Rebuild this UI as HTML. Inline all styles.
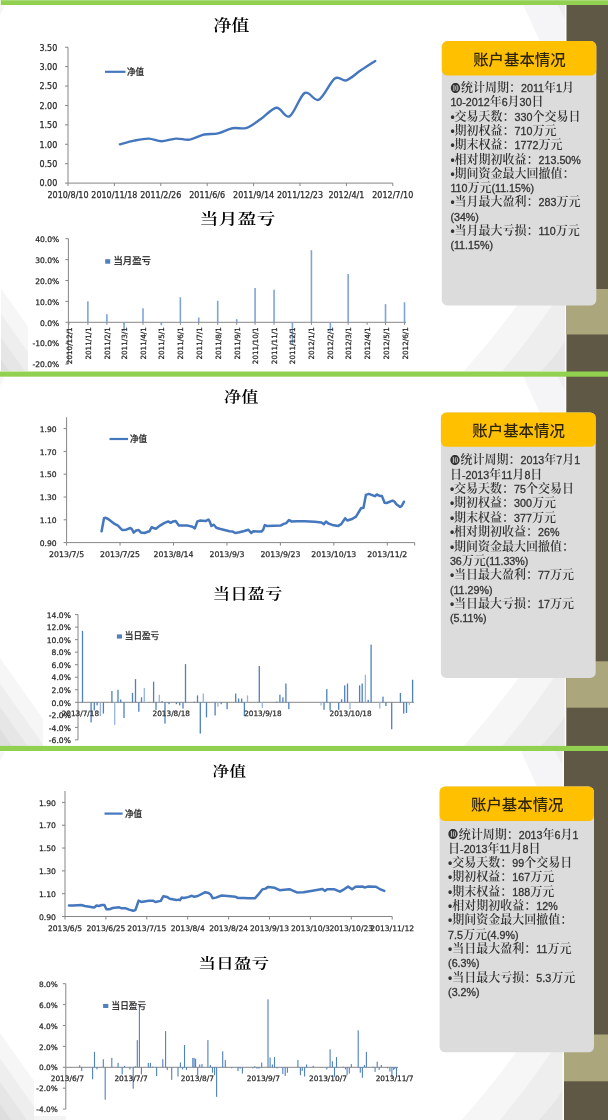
<!DOCTYPE html>
<html lang="zh-CN"><head><meta charset="utf-8"><title>账户基本情况</title>
<style>html,body{margin:0;padding:0;background:#fff}body{width:608px;height:1120px;position:relative;overflow:hidden}text{white-space:pre}</style></head><body>
<svg width="608" height="1120" viewBox="0 0 608 1120" style="position:absolute;left:0;top:0">
<rect x="0" y="0" width="608" height="1120" fill="#FFFFFF"/>
<path d="M523.5,5 L541.0,44 L566.5,44 L566.5,5 Z" fill="#F5F5F7"/>
<path d="M557.5,5 L566.5,5 L566.5,22 Z" fill="#EDEDED"/>
<path d="M521.7,299 Q495.85,335 464,371 L566.5,371 L566.5,299 Z" fill="#F6F6F6"/>
<path d="M556.4,299 Q532.45,335 502.5,371 L566.5,371 L566.5,299 Z" fill="#EEEEEE"/>
<path d="M566.5,339 Q556.8,355 541.1,371 L566.5,371 L566.5,339 Z" fill="#E6E6E6"/>
<rect x="564.9" y="5" width="1.6" height="366" fill="#FCFCFC"/>
<clipPath id="cl0"><rect x="0" y="5" width="28" height="366"/></clipPath><g clip-path="url(#cl0)">
<path d="M0,287 L28,326.76 L28,451 L0,451 Z" fill="#F6F6F6"/>
<path d="M0,312.5 L28,352.26 L28,451 L0,451 Z" fill="#EEEEEE"/>
<path d="M0,336 L28,375.76 L28,451 L0,451 Z" fill="#E6E6E6"/>
<path d="M0,358 L28,397.76 L28,451 L0,451 Z" fill="#DEDEDE"/>
</g>
<rect x="0" y="287" width="1" height="84" fill="#FFFFFF"/>
<path d="M0,5.5 L5,5.5 L0,15 Z" fill="#F6F6F6"/>
<rect x="566.5" y="5" width="41.5" height="367" fill="#5F5844" />
<rect x="566.5" y="289" width="41.5" height="45.5" fill="#ACA67D" />
<rect x="0.8" y="0" width="608" height="5" fill="#92D050" />
<rect x="0.8" y="0" width="608" height="1" fill="#A9DA7A" />
<path d="M523.3,376 L540.8,415 L566.3,415 L566.3,376 Z" fill="#F5F5F7"/>
<path d="M557.3,376 L566.3,376 L566.3,393 Z" fill="#EDEDED"/>
<path d="M521.5,674 Q495.65,710 463.8,746 L566.3,746 L566.3,674 Z" fill="#F6F6F6"/>
<path d="M556.2,674 Q532.25,710 502.3,746 L566.3,746 L566.3,674 Z" fill="#EEEEEE"/>
<path d="M566.3,714 Q556.6,730 540.9,746 L566.3,746 L566.3,714 Z" fill="#E6E6E6"/>
<rect x="564.6999999999999" y="376" width="1.6" height="370" fill="#FCFCFC"/>
<clipPath id="cl371"><rect x="0" y="376" width="43" height="370"/></clipPath><g clip-path="url(#cl371)">
<path d="M0,658 L43,719.06 L43,826 L0,826 Z" fill="#F6F6F6"/>
<path d="M0,683.5 L43,744.56 L43,826 L0,826 Z" fill="#EEEEEE"/>
<path d="M0,707 L43,768.06 L43,826 L0,826 Z" fill="#E6E6E6"/>
<path d="M0,729 L43,790.06 L43,826 L0,826 Z" fill="#DEDEDE"/>
</g>
<path d="M0,376.5 L5,376.5 L0,386 Z" fill="#F6F6F6"/>
<rect x="566.3" y="376" width="41.7" height="371" fill="#5F5844" />
<rect x="566.3" y="661.3" width="41.7" height="46.4" fill="#ACA67D" />
<rect x="0" y="371.5" width="608" height="5.2" fill="#92D050" />
<path d="M521,751 L538.5,790 L564,790 L564,751 Z" fill="#F5F5F7"/>
<path d="M555,751 L564,751 L564,768 Z" fill="#EDEDED"/>
<path d="M519.2,1048 Q493.35,1084 461.5,1120 L564,1120 L564,1048 Z" fill="#F6F6F6"/>
<path d="M553.9,1048 Q529.95,1084 500,1120 L564,1120 L564,1048 Z" fill="#EEEEEE"/>
<path d="M564,1088 Q554.3,1104 538.6,1120 L564,1120 L564,1088 Z" fill="#E6E6E6"/>
<rect x="562.4" y="751" width="1.6" height="369" fill="#FCFCFC"/>
<clipPath id="cl746"><rect x="0" y="751" width="34" height="369"/></clipPath><g clip-path="url(#cl746)">
<path d="M0,1033 L34,1081.28 L34,1200 L0,1200 Z" fill="#F6F6F6"/>
<path d="M0,1058.5 L34,1106.78 L34,1200 L0,1200 Z" fill="#EEEEEE"/>
<path d="M0,1082 L34,1130.28 L34,1200 L0,1200 Z" fill="#E6E6E6"/>
<path d="M0,1104 L34,1152.28 L34,1200 L0,1200 Z" fill="#DEDEDE"/>
</g>
<path d="M0,751.5 L5,751.5 L0,761 Z" fill="#F6F6F6"/>
<rect x="564" y="751" width="44" height="370" fill="#5F5844" />
<rect x="564" y="1034.5" width="44" height="46.8" fill="#ACA67D" />
<rect x="0" y="745.9" width="608" height="5.1" fill="#92D050" />
<rect x="34" y="1116" width="32" height="4" fill="#F4F4F4" />
<text x="231.35" y="30.72" font-size="15.91" text-anchor="middle" fill="#000" font-family="'Liberation Serif', 'Noto Serif CJK SC', serif" font-weight="600" textLength="36.25" lengthAdjust="spacingAndGlyphs">净值</text>
<line x1="68" y1="47.23" x2="68" y2="183.1" stroke="#868686" stroke-width="1"/>
<line x1="65" y1="183.1" x2="68" y2="183.1" stroke="#868686" stroke-width="1"/>
<text x="57.3" y="186.48" font-size="8.0" text-anchor="end" fill="#2A2A2A" font-family="'DejaVu Sans', 'Liberation Sans', sans-serif" font-weight="normal" stroke="#2A2A2A" stroke-width="0.25" >0.00</text>
<line x1="65" y1="163.69" x2="68" y2="163.69" stroke="#868686" stroke-width="1"/>
<text x="57.3" y="167.07" font-size="8.0" text-anchor="end" fill="#2A2A2A" font-family="'DejaVu Sans', 'Liberation Sans', sans-serif" font-weight="normal" stroke="#2A2A2A" stroke-width="0.25" >0.50</text>
<line x1="65" y1="144.28" x2="68" y2="144.28" stroke="#868686" stroke-width="1"/>
<text x="57.3" y="147.66" font-size="8.0" text-anchor="end" fill="#2A2A2A" font-family="'DejaVu Sans', 'Liberation Sans', sans-serif" font-weight="normal" stroke="#2A2A2A" stroke-width="0.25" >1.00</text>
<line x1="65" y1="124.87" x2="68" y2="124.87" stroke="#868686" stroke-width="1"/>
<text x="57.3" y="128.25" font-size="8.0" text-anchor="end" fill="#2A2A2A" font-family="'DejaVu Sans', 'Liberation Sans', sans-serif" font-weight="normal" stroke="#2A2A2A" stroke-width="0.25" >1.50</text>
<line x1="65" y1="105.46" x2="68" y2="105.46" stroke="#868686" stroke-width="1"/>
<text x="57.3" y="108.84" font-size="8.0" text-anchor="end" fill="#2A2A2A" font-family="'DejaVu Sans', 'Liberation Sans', sans-serif" font-weight="normal" stroke="#2A2A2A" stroke-width="0.25" >2.00</text>
<line x1="65" y1="86.05" x2="68" y2="86.05" stroke="#868686" stroke-width="1"/>
<text x="57.3" y="89.43" font-size="8.0" text-anchor="end" fill="#2A2A2A" font-family="'DejaVu Sans', 'Liberation Sans', sans-serif" font-weight="normal" stroke="#2A2A2A" stroke-width="0.25" >2.50</text>
<line x1="65" y1="66.64" x2="68" y2="66.64" stroke="#868686" stroke-width="1"/>
<text x="57.3" y="70.02" font-size="8.0" text-anchor="end" fill="#2A2A2A" font-family="'DejaVu Sans', 'Liberation Sans', sans-serif" font-weight="normal" stroke="#2A2A2A" stroke-width="0.25" >3.00</text>
<line x1="65" y1="47.23" x2="68" y2="47.23" stroke="#868686" stroke-width="1"/>
<text x="57.3" y="50.61" font-size="8.0" text-anchor="end" fill="#2A2A2A" font-family="'DejaVu Sans', 'Liberation Sans', sans-serif" font-weight="normal" stroke="#2A2A2A" stroke-width="0.25" >3.50</text>
<line x1="68" y1="183.1" x2="392.8" y2="183.1" stroke="#868686" stroke-width="1"/>
<line x1="68" y1="183.1" x2="68" y2="186.1" stroke="#868686" stroke-width="1"/>
<text x="68" y="198" font-size="8.0" text-anchor="middle" fill="#2A2A2A" font-family="'DejaVu Sans', 'Liberation Sans', sans-serif" font-weight="normal" stroke="#2A2A2A" stroke-width="0.25" >2010/8/10</text>
<line x1="114.4" y1="183.1" x2="114.4" y2="186.1" stroke="#868686" stroke-width="1"/>
<text x="114.4" y="198" font-size="8.0" text-anchor="middle" fill="#2A2A2A" font-family="'DejaVu Sans', 'Liberation Sans', sans-serif" font-weight="normal" stroke="#2A2A2A" stroke-width="0.25" >2010/11/18</text>
<line x1="160.8" y1="183.1" x2="160.8" y2="186.1" stroke="#868686" stroke-width="1"/>
<text x="160.8" y="198" font-size="8.0" text-anchor="middle" fill="#2A2A2A" font-family="'DejaVu Sans', 'Liberation Sans', sans-serif" font-weight="normal" stroke="#2A2A2A" stroke-width="0.25" >2011/2/26</text>
<line x1="207.2" y1="183.1" x2="207.2" y2="186.1" stroke="#868686" stroke-width="1"/>
<text x="207.2" y="198" font-size="8.0" text-anchor="middle" fill="#2A2A2A" font-family="'DejaVu Sans', 'Liberation Sans', sans-serif" font-weight="normal" stroke="#2A2A2A" stroke-width="0.25" >2011/6/6</text>
<line x1="253.6" y1="183.1" x2="253.6" y2="186.1" stroke="#868686" stroke-width="1"/>
<text x="253.6" y="198" font-size="8.0" text-anchor="middle" fill="#2A2A2A" font-family="'DejaVu Sans', 'Liberation Sans', sans-serif" font-weight="normal" stroke="#2A2A2A" stroke-width="0.25" >2011/9/14</text>
<line x1="300" y1="183.1" x2="300" y2="186.1" stroke="#868686" stroke-width="1"/>
<text x="300" y="198" font-size="8.0" text-anchor="middle" fill="#2A2A2A" font-family="'DejaVu Sans', 'Liberation Sans', sans-serif" font-weight="normal" stroke="#2A2A2A" stroke-width="0.25" >2011/12/23</text>
<line x1="346.4" y1="183.1" x2="346.4" y2="186.1" stroke="#868686" stroke-width="1"/>
<text x="346.4" y="198" font-size="8.0" text-anchor="middle" fill="#2A2A2A" font-family="'DejaVu Sans', 'Liberation Sans', sans-serif" font-weight="normal" stroke="#2A2A2A" stroke-width="0.25" >2012/4/1</text>
<line x1="392.8" y1="183.1" x2="392.8" y2="186.1" stroke="#868686" stroke-width="1"/>
<text x="392.8" y="198" font-size="8.0" text-anchor="middle" fill="#2A2A2A" font-family="'DejaVu Sans', 'Liberation Sans', sans-serif" font-weight="normal" stroke="#2A2A2A" stroke-width="0.25" >2012/7/10</text>
<path d="M119.9,144.3 C122.28,143.68 129.42,141.55 134.2,140.6 C138.98,139.65 144.05,138.48 148.6,138.6 C153.15,138.72 156.95,141.3 161.5,141.3 C166.05,141.3 171.18,138.88 175.9,138.6 C180.62,138.32 185.1,140.28 189.8,139.6 C194.5,138.92 199.4,135.53 204.1,134.5 C208.8,133.47 213.28,134.43 218,133.4 C222.72,132.37 227.62,129.23 232.4,128.3 C237.18,127.37 241.97,129.33 246.7,127.8 C251.43,126.27 255.83,122.45 260.8,119.1 C265.77,115.75 271.72,108.15 276.5,107.7 C281.28,107.25 284.78,118.87 289.5,116.4 C294.22,113.93 299.92,95.68 304.8,92.9 C309.68,90.12 313.8,102.1 318.8,99.7 C323.8,97.3 330.22,81.72 334.8,78.5 C339.38,75.28 342.02,81.72 346.3,80.4 C350.58,79.08 355.68,73.83 360.5,70.6 C365.32,67.37 372.75,62.6 375.2,61" fill="none" stroke="#4477BD" stroke-width="2.4" stroke-linecap="round"/>
<line x1="105" y1="71.8" x2="125.5" y2="71.8" stroke="#4477BD" stroke-width="2.2"/>
<text x="127" y="74.6" font-size="8.6" text-anchor="start" fill="#222" font-family="'Liberation Sans', 'Noto Sans CJK SC', sans-serif" font-weight="normal" stroke="#222" stroke-width="0.25" >净值</text>
<text x="237.45" y="224.48" font-size="14.95" text-anchor="middle" fill="#000" font-family="'Liberation Serif', 'Noto Serif CJK SC', serif" font-weight="600" textLength="76.01" lengthAdjust="spacingAndGlyphs">当月盈亏</text>
<line x1="68.4" y1="238.7" x2="68.4" y2="364.1" stroke="#868686" stroke-width="1"/>
<line x1="65.4" y1="364.1" x2="68.4" y2="364.1" stroke="#868686" stroke-width="1"/>
<text x="59.3" y="367.34" font-size="7.6" text-anchor="end" fill="#2A2A2A" font-family="'DejaVu Sans', 'Liberation Sans', sans-serif" font-weight="normal" stroke="#2A2A2A" stroke-width="0.25" >-20.0%</text>
<line x1="65.4" y1="343.2" x2="68.4" y2="343.2" stroke="#868686" stroke-width="1"/>
<text x="59.3" y="346.44" font-size="7.6" text-anchor="end" fill="#2A2A2A" font-family="'DejaVu Sans', 'Liberation Sans', sans-serif" font-weight="normal" stroke="#2A2A2A" stroke-width="0.25" >-10.0%</text>
<line x1="65.4" y1="322.3" x2="68.4" y2="322.3" stroke="#868686" stroke-width="1"/>
<text x="59.3" y="325.54" font-size="7.6" text-anchor="end" fill="#2A2A2A" font-family="'DejaVu Sans', 'Liberation Sans', sans-serif" font-weight="normal" stroke="#2A2A2A" stroke-width="0.25" >0.0%</text>
<line x1="65.4" y1="301.4" x2="68.4" y2="301.4" stroke="#868686" stroke-width="1"/>
<text x="59.3" y="304.64" font-size="7.6" text-anchor="end" fill="#2A2A2A" font-family="'DejaVu Sans', 'Liberation Sans', sans-serif" font-weight="normal" stroke="#2A2A2A" stroke-width="0.25" >10.0%</text>
<line x1="65.4" y1="280.5" x2="68.4" y2="280.5" stroke="#868686" stroke-width="1"/>
<text x="59.3" y="283.74" font-size="7.6" text-anchor="end" fill="#2A2A2A" font-family="'DejaVu Sans', 'Liberation Sans', sans-serif" font-weight="normal" stroke="#2A2A2A" stroke-width="0.25" >20.0%</text>
<line x1="65.4" y1="259.6" x2="68.4" y2="259.6" stroke="#868686" stroke-width="1"/>
<text x="59.3" y="262.84" font-size="7.6" text-anchor="end" fill="#2A2A2A" font-family="'DejaVu Sans', 'Liberation Sans', sans-serif" font-weight="normal" stroke="#2A2A2A" stroke-width="0.25" >30.0%</text>
<line x1="65.4" y1="238.7" x2="68.4" y2="238.7" stroke="#868686" stroke-width="1"/>
<text x="59.3" y="241.94" font-size="7.6" text-anchor="end" fill="#2A2A2A" font-family="'DejaVu Sans', 'Liberation Sans', sans-serif" font-weight="normal" stroke="#2A2A2A" stroke-width="0.25" >40.0%</text>
<line x1="68.4" y1="322.3" x2="406" y2="322.3" stroke="#868686" stroke-width="1"/>
<line x1="68.9" y1="322.3" x2="68.9" y2="324.8" stroke="#868686" stroke-width="1"/>
<text transform="translate(71.9,327.3) rotate(-90)" font-size="7.2" text-anchor="end" fill="#2A2A2A" stroke="#2A2A2A" stroke-width="0.25" font-family="'DejaVu Sans', 'Liberation Sans', sans-serif">2010/12/1</text>
<line x1="87.88" y1="322.3" x2="87.88" y2="324.8" stroke="#868686" stroke-width="1"/>
<rect x="87.08" y="301.4" width="1.6" height="20.9" fill="#7FA5D7" />
<text transform="translate(90.88,327.3) rotate(-90)" font-size="7.2" text-anchor="end" fill="#2A2A2A" stroke="#2A2A2A" stroke-width="0.25" font-family="'DejaVu Sans', 'Liberation Sans', sans-serif">2011/1/1</text>
<line x1="106.87" y1="322.3" x2="106.87" y2="324.8" stroke="#868686" stroke-width="1"/>
<rect x="106.07" y="314.15" width="1.6" height="8.15" fill="#7FA5D7" />
<text transform="translate(109.87,327.3) rotate(-90)" font-size="7.2" text-anchor="end" fill="#2A2A2A" stroke="#2A2A2A" stroke-width="0.25" font-family="'DejaVu Sans', 'Liberation Sans', sans-serif">2011/2/1</text>
<line x1="124.02" y1="322.3" x2="124.02" y2="324.8" stroke="#868686" stroke-width="1"/>
<rect x="123.22" y="322.3" width="1.6" height="8.99" fill="#7FA5D7" />
<text transform="translate(127.02,327.3) rotate(-90)" font-size="7.2" text-anchor="end" fill="#2A2A2A" stroke="#2A2A2A" stroke-width="0.25" font-family="'DejaVu Sans', 'Liberation Sans', sans-serif">2011/3/1</text>
<line x1="143" y1="322.3" x2="143" y2="324.8" stroke="#868686" stroke-width="1"/>
<rect x="142.2" y="308.3" width="1.6" height="14" fill="#7FA5D7" />
<text transform="translate(146,327.3) rotate(-90)" font-size="7.2" text-anchor="end" fill="#2A2A2A" stroke="#2A2A2A" stroke-width="0.25" font-family="'DejaVu Sans', 'Liberation Sans', sans-serif">2011/4/1</text>
<line x1="161.37" y1="322.3" x2="161.37" y2="324.8" stroke="#868686" stroke-width="1"/>
<rect x="160.57" y="322.3" width="1.6" height="2.93" fill="#7FA5D7" />
<text transform="translate(164.37,327.3) rotate(-90)" font-size="7.2" text-anchor="end" fill="#2A2A2A" stroke="#2A2A2A" stroke-width="0.25" font-family="'DejaVu Sans', 'Liberation Sans', sans-serif">2011/5/1</text>
<line x1="180.36" y1="322.3" x2="180.36" y2="324.8" stroke="#868686" stroke-width="1"/>
<rect x="179.56" y="297.22" width="1.6" height="25.08" fill="#7FA5D7" />
<text transform="translate(183.36,327.3) rotate(-90)" font-size="7.2" text-anchor="end" fill="#2A2A2A" stroke="#2A2A2A" stroke-width="0.25" font-family="'DejaVu Sans', 'Liberation Sans', sans-serif">2011/6/1</text>
<line x1="198.73" y1="322.3" x2="198.73" y2="324.8" stroke="#868686" stroke-width="1"/>
<rect x="197.93" y="317.49" width="1.6" height="4.81" fill="#7FA5D7" />
<text transform="translate(201.73,327.3) rotate(-90)" font-size="7.2" text-anchor="end" fill="#2A2A2A" stroke="#2A2A2A" stroke-width="0.25" font-family="'DejaVu Sans', 'Liberation Sans', sans-serif">2011/7/1</text>
<line x1="217.71" y1="322.3" x2="217.71" y2="324.8" stroke="#868686" stroke-width="1"/>
<rect x="216.91" y="300.77" width="1.6" height="21.53" fill="#7FA5D7" />
<text transform="translate(220.71,327.3) rotate(-90)" font-size="7.2" text-anchor="end" fill="#2A2A2A" stroke="#2A2A2A" stroke-width="0.25" font-family="'DejaVu Sans', 'Liberation Sans', sans-serif">2011/8/1</text>
<line x1="236.7" y1="322.3" x2="236.7" y2="324.8" stroke="#868686" stroke-width="1"/>
<rect x="235.9" y="319.17" width="1.6" height="3.13" fill="#7FA5D7" />
<text transform="translate(239.7,327.3) rotate(-90)" font-size="7.2" text-anchor="end" fill="#2A2A2A" stroke="#2A2A2A" stroke-width="0.25" font-family="'DejaVu Sans', 'Liberation Sans', sans-serif">2011/9/1</text>
<line x1="255.07" y1="322.3" x2="255.07" y2="324.8" stroke="#868686" stroke-width="1"/>
<rect x="254.27" y="288.02" width="1.6" height="34.28" fill="#7FA5D7" />
<text transform="translate(258.07,327.3) rotate(-90)" font-size="7.2" text-anchor="end" fill="#2A2A2A" stroke="#2A2A2A" stroke-width="0.25" font-family="'DejaVu Sans', 'Liberation Sans', sans-serif">2011/10/1</text>
<line x1="274.05" y1="322.3" x2="274.05" y2="324.8" stroke="#868686" stroke-width="1"/>
<rect x="273.25" y="289.7" width="1.6" height="32.6" fill="#7FA5D7" />
<text transform="translate(277.05,327.3) rotate(-90)" font-size="7.2" text-anchor="end" fill="#2A2A2A" stroke="#2A2A2A" stroke-width="0.25" font-family="'DejaVu Sans', 'Liberation Sans', sans-serif">2011/11/1</text>
<line x1="292.43" y1="322.3" x2="292.43" y2="324.8" stroke="#868686" stroke-width="1"/>
<rect x="291.63" y="322.3" width="1.6" height="22.36" fill="#7FA5D7" />
<text transform="translate(295.43,327.3) rotate(-90)" font-size="7.2" text-anchor="end" fill="#2A2A2A" stroke="#2A2A2A" stroke-width="0.25" font-family="'DejaVu Sans', 'Liberation Sans', sans-serif">2011/12/1</text>
<line x1="311.41" y1="322.3" x2="311.41" y2="324.8" stroke="#868686" stroke-width="1"/>
<rect x="310.61" y="250.2" width="1.6" height="72.1" fill="#7FA5D7" />
<text transform="translate(314.41,327.3) rotate(-90)" font-size="7.2" text-anchor="end" fill="#2A2A2A" stroke="#2A2A2A" stroke-width="0.25" font-family="'DejaVu Sans', 'Liberation Sans', sans-serif">2012/1/1</text>
<line x1="330.39" y1="322.3" x2="330.39" y2="324.8" stroke="#868686" stroke-width="1"/>
<rect x="329.59" y="322.3" width="1.6" height="9.4" fill="#7FA5D7" />
<text transform="translate(333.39,327.3) rotate(-90)" font-size="7.2" text-anchor="end" fill="#2A2A2A" stroke="#2A2A2A" stroke-width="0.25" font-family="'DejaVu Sans', 'Liberation Sans', sans-serif">2012/2/1</text>
<line x1="348.15" y1="322.3" x2="348.15" y2="324.8" stroke="#868686" stroke-width="1"/>
<rect x="347.35" y="274.02" width="1.6" height="48.28" fill="#7FA5D7" />
<text transform="translate(351.15,327.3) rotate(-90)" font-size="7.2" text-anchor="end" fill="#2A2A2A" stroke="#2A2A2A" stroke-width="0.25" font-family="'DejaVu Sans', 'Liberation Sans', sans-serif">2012/3/1</text>
<line x1="367.14" y1="322.3" x2="367.14" y2="324.8" stroke="#868686" stroke-width="1"/>
<text transform="translate(370.14,327.3) rotate(-90)" font-size="7.2" text-anchor="end" fill="#2A2A2A" stroke="#2A2A2A" stroke-width="0.25" font-family="'DejaVu Sans', 'Liberation Sans', sans-serif">2012/4/1</text>
<line x1="385.51" y1="322.3" x2="385.51" y2="324.8" stroke="#868686" stroke-width="1"/>
<rect x="384.71" y="304.12" width="1.6" height="18.18" fill="#7FA5D7" />
<text transform="translate(388.51,327.3) rotate(-90)" font-size="7.2" text-anchor="end" fill="#2A2A2A" stroke="#2A2A2A" stroke-width="0.25" font-family="'DejaVu Sans', 'Liberation Sans', sans-serif">2012/5/1</text>
<line x1="404.5" y1="322.3" x2="404.5" y2="324.8" stroke="#868686" stroke-width="1"/>
<rect x="403.7" y="302.24" width="1.6" height="20.06" fill="#7FA5D7" />
<text transform="translate(407.5,327.3) rotate(-90)" font-size="7.2" text-anchor="end" fill="#2A2A2A" stroke="#2A2A2A" stroke-width="0.25" font-family="'DejaVu Sans', 'Liberation Sans', sans-serif">2012/6/1</text>
<rect x="105.2" y="259.2" width="5" height="4.5" fill="#4F81BD" />
<text x="113.4" y="263.6" font-size="9.4" text-anchor="start" fill="#222" font-family="'Liberation Sans', 'Noto Sans CJK SC', sans-serif" font-weight="normal" stroke="#222" stroke-width="0.25" >当月盈亏</text>
<text x="241.2" y="401.51" font-size="14.41" text-anchor="middle" fill="#000" font-family="'Liberation Serif', 'Noto Serif CJK SC', serif" font-weight="600" textLength="34.35" lengthAdjust="spacingAndGlyphs">净值</text>
<line x1="66.6" y1="417.2" x2="66.6" y2="542.6" stroke="#868686" stroke-width="1"/>
<line x1="63.6" y1="542.6" x2="66.6" y2="542.6" stroke="#868686" stroke-width="1"/>
<text x="56.7" y="545.84" font-size="7.6" text-anchor="end" fill="#2A2A2A" font-family="'DejaVu Sans', 'Liberation Sans', sans-serif" font-weight="normal" stroke="#2A2A2A" stroke-width="0.25" >0.90</text>
<line x1="63.6" y1="519.8" x2="66.6" y2="519.8" stroke="#868686" stroke-width="1"/>
<text x="56.7" y="523.04" font-size="7.6" text-anchor="end" fill="#2A2A2A" font-family="'DejaVu Sans', 'Liberation Sans', sans-serif" font-weight="normal" stroke="#2A2A2A" stroke-width="0.25" >1.10</text>
<line x1="63.6" y1="497" x2="66.6" y2="497" stroke="#868686" stroke-width="1"/>
<text x="56.7" y="500.24" font-size="7.6" text-anchor="end" fill="#2A2A2A" font-family="'DejaVu Sans', 'Liberation Sans', sans-serif" font-weight="normal" stroke="#2A2A2A" stroke-width="0.25" >1.30</text>
<line x1="63.6" y1="474.2" x2="66.6" y2="474.2" stroke="#868686" stroke-width="1"/>
<text x="56.7" y="477.44" font-size="7.6" text-anchor="end" fill="#2A2A2A" font-family="'DejaVu Sans', 'Liberation Sans', sans-serif" font-weight="normal" stroke="#2A2A2A" stroke-width="0.25" >1.50</text>
<line x1="63.6" y1="451.4" x2="66.6" y2="451.4" stroke="#868686" stroke-width="1"/>
<text x="56.7" y="454.64" font-size="7.6" text-anchor="end" fill="#2A2A2A" font-family="'DejaVu Sans', 'Liberation Sans', sans-serif" font-weight="normal" stroke="#2A2A2A" stroke-width="0.25" >1.70</text>
<line x1="63.6" y1="428.6" x2="66.6" y2="428.6" stroke="#868686" stroke-width="1"/>
<text x="56.7" y="431.84" font-size="7.6" text-anchor="end" fill="#2A2A2A" font-family="'DejaVu Sans', 'Liberation Sans', sans-serif" font-weight="normal" stroke="#2A2A2A" stroke-width="0.25" >1.90</text>
<line x1="66.6" y1="542.6" x2="414.7" y2="542.6" stroke="#868686" stroke-width="1"/>
<line x1="66.6" y1="542.6" x2="66.6" y2="545.6" stroke="#868686" stroke-width="1"/>
<text x="66.6" y="557.1" font-size="7.8" text-anchor="middle" fill="#2A2A2A" font-family="'DejaVu Sans', 'Liberation Sans', sans-serif" font-weight="normal" stroke="#2A2A2A" stroke-width="0.25" >2013/7/5</text>
<line x1="120.05" y1="542.6" x2="120.05" y2="545.6" stroke="#868686" stroke-width="1"/>
<text x="120.05" y="557.1" font-size="7.8" text-anchor="middle" fill="#2A2A2A" font-family="'DejaVu Sans', 'Liberation Sans', sans-serif" font-weight="normal" stroke="#2A2A2A" stroke-width="0.25" >2013/7/25</text>
<line x1="173.5" y1="542.6" x2="173.5" y2="545.6" stroke="#868686" stroke-width="1"/>
<text x="173.5" y="557.1" font-size="7.8" text-anchor="middle" fill="#2A2A2A" font-family="'DejaVu Sans', 'Liberation Sans', sans-serif" font-weight="normal" stroke="#2A2A2A" stroke-width="0.25" >2013/8/14</text>
<line x1="226.95" y1="542.6" x2="226.95" y2="545.6" stroke="#868686" stroke-width="1"/>
<text x="226.95" y="557.1" font-size="7.8" text-anchor="middle" fill="#2A2A2A" font-family="'DejaVu Sans', 'Liberation Sans', sans-serif" font-weight="normal" stroke="#2A2A2A" stroke-width="0.25" >2013/9/3</text>
<line x1="280.4" y1="542.6" x2="280.4" y2="545.6" stroke="#868686" stroke-width="1"/>
<text x="280.4" y="557.1" font-size="7.8" text-anchor="middle" fill="#2A2A2A" font-family="'DejaVu Sans', 'Liberation Sans', sans-serif" font-weight="normal" stroke="#2A2A2A" stroke-width="0.25" >2013/9/23</text>
<line x1="333.85" y1="542.6" x2="333.85" y2="545.6" stroke="#868686" stroke-width="1"/>
<text x="333.85" y="557.1" font-size="7.8" text-anchor="middle" fill="#2A2A2A" font-family="'DejaVu Sans', 'Liberation Sans', sans-serif" font-weight="normal" stroke="#2A2A2A" stroke-width="0.25" >2013/10/13</text>
<line x1="387.3" y1="542.6" x2="387.3" y2="545.6" stroke="#868686" stroke-width="1"/>
<text x="387.3" y="557.1" font-size="7.8" text-anchor="middle" fill="#2A2A2A" font-family="'DejaVu Sans', 'Liberation Sans', sans-serif" font-weight="normal" stroke="#2A2A2A" stroke-width="0.25" >2013/11/2</text>
<line x1="414.7" y1="542.6" x2="414.7" y2="545.6" stroke="#868686" stroke-width="1"/>
<path d="M101.6,531.3 L104,518.2 L105.7,517.8 L108.2,519 L111.4,521.4 L114.7,523.9 L118,525.6 L122.1,530 L126.2,529.7 L130.4,528 L132,529.3 L133.7,532.6 L136.1,530.5 L138.6,530 L141,532.6 L144.3,533 L149.3,531.3 L151.7,527.2 L153.4,528 L155.9,528.8 L160,525.6 L164.1,523.1 L168.2,521.4 L170.7,522.8 L173.1,521.4 L175.6,521.1 L178.9,525.6 L183.8,525.6 L187.9,525.6 L192.5,526.7 L194.9,528.4 L197.4,521.4 L199.9,520.6 L205.6,521.1 L208.4,519.5 L209.7,521.4 L211.4,526 L213.8,524.7 L216.3,527.7 L219.6,528.8 L224.5,530 L229.5,531.3 L232.8,531.6 L235.2,533 L239.3,532.3 L244.3,531 L248.4,529.7 L251.2,533 L253.3,531.3 L257.4,531.6 L261.5,531.6 L263.2,529.7 L264.8,525.1 L267.3,526 L280.5,525.6 L283.8,523.9 L286.2,523.1 L288.9,520.1 L291.9,521.5 L296.8,521.3 L304.7,521.3 L314.6,521.7 L321.5,522.5 L323.9,524.1 L326,521.5 L328.4,523.5 L332.4,524.9 L338.3,525.9 L341.2,524.1 L345.2,518.2 L347.2,520.5 L352.1,519 L356,516.6 L361,508.3 L363.5,507.7 L365.9,494.9 L368.9,493.9 L374.8,496.2 L376.8,494.5 L379.7,495.9 L382,496.1 L384.6,502.7 L386.6,503 L392.5,500.7 L394.5,501.7 L396.4,504.3 L400.1,507 L401.7,506 L404,501.7" fill="none" stroke="#4477BD" stroke-width="2.5" stroke-linejoin="round" stroke-linecap="round"/>
<line x1="109.5" y1="439" x2="128" y2="439" stroke="#4477BD" stroke-width="2.2"/>
<text x="130" y="442" font-size="8.6" text-anchor="start" fill="#222" font-family="'Liberation Sans', 'Noto Sans CJK SC', sans-serif" font-weight="normal" stroke="#222" stroke-width="0.25" >净值</text>
<text x="247.55" y="599.31" font-size="14.3" text-anchor="middle" fill="#000" font-family="'Liberation Serif', 'Noto Serif CJK SC', serif" font-weight="600" textLength="69.58" lengthAdjust="spacingAndGlyphs">当日盈亏</text>
<line x1="78" y1="614.59" x2="78" y2="739.89" stroke="#868686" stroke-width="1"/>
<line x1="75" y1="739.89" x2="78" y2="739.89" stroke="#868686" stroke-width="1"/>
<text x="70.9" y="743.13" font-size="7.6" text-anchor="end" fill="#2A2A2A" font-family="'DejaVu Sans', 'Liberation Sans', sans-serif" font-weight="normal" stroke="#2A2A2A" stroke-width="0.25" >-6.0%</text>
<line x1="75" y1="727.36" x2="78" y2="727.36" stroke="#868686" stroke-width="1"/>
<text x="70.9" y="730.6" font-size="7.6" text-anchor="end" fill="#2A2A2A" font-family="'DejaVu Sans', 'Liberation Sans', sans-serif" font-weight="normal" stroke="#2A2A2A" stroke-width="0.25" >-4.0%</text>
<line x1="75" y1="714.83" x2="78" y2="714.83" stroke="#868686" stroke-width="1"/>
<text x="70.9" y="718.07" font-size="7.6" text-anchor="end" fill="#2A2A2A" font-family="'DejaVu Sans', 'Liberation Sans', sans-serif" font-weight="normal" stroke="#2A2A2A" stroke-width="0.25" >-2.0%</text>
<line x1="75" y1="702.3" x2="78" y2="702.3" stroke="#868686" stroke-width="1"/>
<text x="70.9" y="705.54" font-size="7.6" text-anchor="end" fill="#2A2A2A" font-family="'DejaVu Sans', 'Liberation Sans', sans-serif" font-weight="normal" stroke="#2A2A2A" stroke-width="0.25" >0.0%</text>
<line x1="75" y1="689.77" x2="78" y2="689.77" stroke="#868686" stroke-width="1"/>
<text x="70.9" y="693.01" font-size="7.6" text-anchor="end" fill="#2A2A2A" font-family="'DejaVu Sans', 'Liberation Sans', sans-serif" font-weight="normal" stroke="#2A2A2A" stroke-width="0.25" >2.0%</text>
<line x1="75" y1="677.24" x2="78" y2="677.24" stroke="#868686" stroke-width="1"/>
<text x="70.9" y="680.48" font-size="7.6" text-anchor="end" fill="#2A2A2A" font-family="'DejaVu Sans', 'Liberation Sans', sans-serif" font-weight="normal" stroke="#2A2A2A" stroke-width="0.25" >4.0%</text>
<line x1="75" y1="664.71" x2="78" y2="664.71" stroke="#868686" stroke-width="1"/>
<text x="70.9" y="667.95" font-size="7.6" text-anchor="end" fill="#2A2A2A" font-family="'DejaVu Sans', 'Liberation Sans', sans-serif" font-weight="normal" stroke="#2A2A2A" stroke-width="0.25" >6.0%</text>
<line x1="75" y1="652.18" x2="78" y2="652.18" stroke="#868686" stroke-width="1"/>
<text x="70.9" y="655.42" font-size="7.6" text-anchor="end" fill="#2A2A2A" font-family="'DejaVu Sans', 'Liberation Sans', sans-serif" font-weight="normal" stroke="#2A2A2A" stroke-width="0.25" >8.0%</text>
<line x1="75" y1="639.65" x2="78" y2="639.65" stroke="#868686" stroke-width="1"/>
<text x="70.9" y="642.89" font-size="7.6" text-anchor="end" fill="#2A2A2A" font-family="'DejaVu Sans', 'Liberation Sans', sans-serif" font-weight="normal" stroke="#2A2A2A" stroke-width="0.25" >10.0%</text>
<line x1="75" y1="627.12" x2="78" y2="627.12" stroke="#868686" stroke-width="1"/>
<text x="70.9" y="630.36" font-size="7.6" text-anchor="end" fill="#2A2A2A" font-family="'DejaVu Sans', 'Liberation Sans', sans-serif" font-weight="normal" stroke="#2A2A2A" stroke-width="0.25" >12.0%</text>
<line x1="75" y1="614.59" x2="78" y2="614.59" stroke="#868686" stroke-width="1"/>
<text x="70.9" y="617.83" font-size="7.6" text-anchor="end" fill="#2A2A2A" font-family="'DejaVu Sans', 'Liberation Sans', sans-serif" font-weight="normal" stroke="#2A2A2A" stroke-width="0.25" >14.0%</text>
<line x1="78" y1="702.3" x2="413.9" y2="702.3" stroke="#868686" stroke-width="1"/>
<rect x="81.85" y="630.88" width="1.3" height="71.42" fill="#4F81BD" />
<rect x="90.45" y="702.3" width="1.3" height="20.05" fill="#4F81BD" />
<rect x="93.65" y="702.3" width="1.3" height="8.14" fill="#4F81BD" />
<rect x="96.45" y="702.3" width="1.3" height="3.13" fill="#4F81BD" />
<rect x="99.75" y="702.3" width="1.3" height="13.78" fill="#95B5E0" />
<rect x="102.75" y="702.3" width="1.3" height="11.28" fill="#4F81BD" />
<rect x="111.25" y="691.02" width="1.3" height="11.28" fill="#4F81BD" />
<rect x="114.05" y="702.3" width="1.3" height="22.55" fill="#95B5E0" />
<rect x="117.35" y="689.77" width="1.3" height="12.53" fill="#4F81BD" />
<rect x="120.05" y="699.48" width="1.3" height="2.82" fill="#4F81BD" />
<rect x="123.35" y="702.3" width="1.3" height="15.66" fill="#4F81BD" />
<rect x="131.85" y="692.9" width="1.3" height="9.4" fill="#4F81BD" />
<rect x="134.85" y="679.12" width="1.3" height="23.18" fill="#4F81BD" />
<rect x="138.15" y="702.3" width="1.3" height="9.4" fill="#4F81BD" />
<rect x="140.85" y="697.29" width="1.3" height="5.01" fill="#4F81BD" />
<rect x="143.65" y="687.89" width="1.3" height="14.41" fill="#95B5E0" />
<rect x="152.95" y="681.63" width="1.3" height="20.67" fill="#4F81BD" />
<rect x="155.35" y="702.3" width="1.3" height="7.52" fill="#4F81BD" />
<rect x="158.65" y="694.78" width="1.3" height="7.52" fill="#95B5E0" />
<rect x="161.45" y="701.05" width="1.3" height="1.25" fill="#4F81BD" />
<rect x="164.35" y="702.3" width="1.3" height="21.3" fill="#4F81BD" />
<rect x="168.35" y="702.3" width="1.3" height="1.88" fill="#4F81BD" />
<rect x="175.75" y="702.3" width="1.3" height="1.88" fill="#4F81BD" />
<rect x="179.05" y="702.3" width="1.3" height="3.13" fill="#4F81BD" />
<rect x="182.35" y="702.3" width="1.3" height="6.26" fill="#4F81BD" />
<rect x="184.85" y="664.08" width="1.3" height="38.22" fill="#4F81BD" />
<rect x="193.55" y="701.67" width="1.3" height="0.63" fill="#4F81BD" />
<rect x="196.85" y="695.41" width="1.3" height="6.89" fill="#4F81BD" />
<rect x="199.65" y="702.3" width="1.3" height="31.33" fill="#4F81BD" />
<rect x="202.65" y="693.53" width="1.3" height="8.77" fill="#95B5E0" />
<rect x="205.85" y="702.3" width="1.3" height="15.04" fill="#4F81BD" />
<rect x="214.45" y="702.3" width="1.3" height="13.16" fill="#4F81BD" />
<rect x="217.25" y="702.3" width="1.3" height="4.39" fill="#95B5E0" />
<rect x="220.55" y="702.3" width="1.3" height="1.88" fill="#4F81BD" />
<rect x="226.45" y="702.3" width="1.3" height="6.89" fill="#4F81BD" />
<rect x="235.05" y="693.53" width="1.3" height="8.77" fill="#4F81BD" />
<rect x="237.95" y="698.54" width="1.3" height="3.76" fill="#4F81BD" />
<rect x="241.05" y="698.54" width="1.3" height="3.76" fill="#4F81BD" />
<rect x="243.75" y="702.3" width="1.3" height="13.78" fill="#4F81BD" />
<rect x="246.85" y="695.41" width="1.3" height="6.89" fill="#95B5E0" />
<rect x="258.65" y="665.96" width="1.3" height="36.34" fill="#4F81BD" />
<rect x="261.65" y="702.3" width="1.3" height="5.64" fill="#95B5E0" />
<rect x="275.95" y="701.67" width="1.3" height="0.63" fill="#4F81BD" />
<rect x="279.25" y="694.78" width="1.3" height="7.52" fill="#4F81BD" />
<rect x="282.25" y="697.29" width="1.3" height="5.01" fill="#4F81BD" />
<rect x="285.25" y="683.5" width="1.3" height="18.79" fill="#4F81BD" />
<rect x="288.15" y="702.3" width="1.3" height="6.89" fill="#4F81BD" />
<rect x="320.35" y="702.3" width="1.3" height="3.13" fill="#95B5E0" />
<rect x="323.35" y="702.3" width="1.3" height="7.52" fill="#4F81BD" />
<rect x="326.15" y="689.14" width="1.3" height="13.16" fill="#4F81BD" />
<rect x="329.45" y="702.3" width="1.3" height="8.14" fill="#4F81BD" />
<rect x="338.05" y="702.3" width="1.3" height="7.52" fill="#4F81BD" />
<rect x="340.95" y="699.17" width="1.3" height="3.13" fill="#4F81BD" />
<rect x="344.05" y="685.38" width="1.3" height="16.92" fill="#4F81BD" />
<rect x="346.85" y="683.5" width="1.3" height="18.79" fill="#4F81BD" />
<rect x="349.35" y="702.3" width="1.3" height="6.89" fill="#95B5E0" />
<rect x="358.95" y="685.38" width="1.3" height="16.92" fill="#4F81BD" />
<rect x="361.55" y="683.5" width="1.3" height="18.79" fill="#4F81BD" />
<rect x="364.75" y="674.73" width="1.3" height="27.57" fill="#95B5E0" />
<rect x="367.55" y="699.79" width="1.3" height="2.51" fill="#4F81BD" />
<rect x="370.45" y="644.66" width="1.3" height="57.64" fill="#4F81BD" />
<rect x="379.15" y="702.3" width="1.3" height="6.26" fill="#95B5E0" />
<rect x="382.35" y="696.66" width="1.3" height="5.64" fill="#4F81BD" />
<rect x="385.25" y="702.3" width="1.3" height="3.76" fill="#4F81BD" />
<rect x="391.05" y="702.3" width="1.3" height="26.94" fill="#4F81BD" />
<rect x="399.75" y="692.9" width="1.3" height="9.4" fill="#4F81BD" />
<rect x="403.05" y="702.3" width="1.3" height="11.28" fill="#4F81BD" />
<rect x="405.85" y="702.3" width="1.3" height="10.65" fill="#4F81BD" />
<rect x="408.75" y="702.3" width="1.3" height="2.51" fill="#95B5E0" />
<rect x="411.95" y="679.75" width="1.3" height="22.55" fill="#4F81BD" />
<text x="80.4" y="716.3" font-size="7.3" text-anchor="middle" fill="#2A2A2A" font-family="'DejaVu Sans', 'Liberation Sans', sans-serif" font-weight="normal" stroke="#2A2A2A" stroke-width="0.25" >2013/7/18</text>
<text x="171.3" y="716.3" font-size="7.3" text-anchor="middle" fill="#2A2A2A" font-family="'DejaVu Sans', 'Liberation Sans', sans-serif" font-weight="normal" stroke="#2A2A2A" stroke-width="0.25" >2013/8/18</text>
<text x="262.9" y="716.3" font-size="7.3" text-anchor="middle" fill="#2A2A2A" font-family="'DejaVu Sans', 'Liberation Sans', sans-serif" font-weight="normal" stroke="#2A2A2A" stroke-width="0.25" >2013/9/18</text>
<text x="350.6" y="716.3" font-size="7.3" text-anchor="middle" fill="#2A2A2A" font-family="'DejaVu Sans', 'Liberation Sans', sans-serif" font-weight="normal" stroke="#2A2A2A" stroke-width="0.25" >2013/10/18</text>
<rect x="116.9" y="634.4" width="5.1" height="4.2" fill="#4F81BD" />
<text x="124.8" y="639.3" font-size="8.6" text-anchor="start" fill="#222" font-family="'Liberation Sans', 'Noto Sans CJK SC', sans-serif" font-weight="normal" stroke="#222" stroke-width="0.25" >当日盈亏</text>
<text x="229.15" y="775.94" font-size="13.76" text-anchor="middle" fill="#000" font-family="'Liberation Serif', 'Noto Serif CJK SC', serif" font-weight="600" textLength="33.76" lengthAdjust="spacingAndGlyphs">净值</text>
<line x1="65" y1="790.99" x2="65" y2="916.5" stroke="#868686" stroke-width="1"/>
<line x1="62" y1="916.5" x2="65" y2="916.5" stroke="#868686" stroke-width="1"/>
<text x="56" y="919.77" font-size="7.7" text-anchor="end" fill="#2A2A2A" font-family="'DejaVu Sans', 'Liberation Sans', sans-serif" font-weight="normal" stroke="#2A2A2A" stroke-width="0.25" >0.90</text>
<line x1="62" y1="893.68" x2="65" y2="893.68" stroke="#868686" stroke-width="1"/>
<text x="56" y="896.95" font-size="7.7" text-anchor="end" fill="#2A2A2A" font-family="'DejaVu Sans', 'Liberation Sans', sans-serif" font-weight="normal" stroke="#2A2A2A" stroke-width="0.25" >1.10</text>
<line x1="62" y1="870.86" x2="65" y2="870.86" stroke="#868686" stroke-width="1"/>
<text x="56" y="874.13" font-size="7.7" text-anchor="end" fill="#2A2A2A" font-family="'DejaVu Sans', 'Liberation Sans', sans-serif" font-weight="normal" stroke="#2A2A2A" stroke-width="0.25" >1.30</text>
<line x1="62" y1="848.04" x2="65" y2="848.04" stroke="#868686" stroke-width="1"/>
<text x="56" y="851.31" font-size="7.7" text-anchor="end" fill="#2A2A2A" font-family="'DejaVu Sans', 'Liberation Sans', sans-serif" font-weight="normal" stroke="#2A2A2A" stroke-width="0.25" >1.50</text>
<line x1="62" y1="825.22" x2="65" y2="825.22" stroke="#868686" stroke-width="1"/>
<text x="56" y="828.49" font-size="7.7" text-anchor="end" fill="#2A2A2A" font-family="'DejaVu Sans', 'Liberation Sans', sans-serif" font-weight="normal" stroke="#2A2A2A" stroke-width="0.25" >1.70</text>
<line x1="62" y1="802.4" x2="65" y2="802.4" stroke="#868686" stroke-width="1"/>
<text x="56" y="805.67" font-size="7.7" text-anchor="end" fill="#2A2A2A" font-family="'DejaVu Sans', 'Liberation Sans', sans-serif" font-weight="normal" stroke="#2A2A2A" stroke-width="0.25" >1.90</text>
<line x1="65" y1="916.5" x2="392.2" y2="916.5" stroke="#868686" stroke-width="1"/>
<line x1="65" y1="916.5" x2="65" y2="919.5" stroke="#868686" stroke-width="1"/>
<text x="65" y="930.6" font-size="7.6" text-anchor="middle" fill="#2A2A2A" font-family="'DejaVu Sans', 'Liberation Sans', sans-serif" font-weight="normal" stroke="#2A2A2A" stroke-width="0.25" >2013/6/5</text>
<line x1="105.9" y1="916.5" x2="105.9" y2="919.5" stroke="#868686" stroke-width="1"/>
<text x="105.9" y="930.6" font-size="7.6" text-anchor="middle" fill="#2A2A2A" font-family="'DejaVu Sans', 'Liberation Sans', sans-serif" font-weight="normal" stroke="#2A2A2A" stroke-width="0.25" >2013/6/25</text>
<line x1="146.8" y1="916.5" x2="146.8" y2="919.5" stroke="#868686" stroke-width="1"/>
<text x="146.8" y="930.6" font-size="7.6" text-anchor="middle" fill="#2A2A2A" font-family="'DejaVu Sans', 'Liberation Sans', sans-serif" font-weight="normal" stroke="#2A2A2A" stroke-width="0.25" >2013/7/15</text>
<line x1="187.7" y1="916.5" x2="187.7" y2="919.5" stroke="#868686" stroke-width="1"/>
<text x="187.7" y="930.6" font-size="7.6" text-anchor="middle" fill="#2A2A2A" font-family="'DejaVu Sans', 'Liberation Sans', sans-serif" font-weight="normal" stroke="#2A2A2A" stroke-width="0.25" >2013/8/4</text>
<line x1="228.6" y1="916.5" x2="228.6" y2="919.5" stroke="#868686" stroke-width="1"/>
<text x="228.6" y="930.6" font-size="7.6" text-anchor="middle" fill="#2A2A2A" font-family="'DejaVu Sans', 'Liberation Sans', sans-serif" font-weight="normal" stroke="#2A2A2A" stroke-width="0.25" >2013/8/24</text>
<line x1="269.5" y1="916.5" x2="269.5" y2="919.5" stroke="#868686" stroke-width="1"/>
<text x="269.5" y="930.6" font-size="7.6" text-anchor="middle" fill="#2A2A2A" font-family="'DejaVu Sans', 'Liberation Sans', sans-serif" font-weight="normal" stroke="#2A2A2A" stroke-width="0.25" >2013/9/13</text>
<line x1="310.4" y1="916.5" x2="310.4" y2="919.5" stroke="#868686" stroke-width="1"/>
<text x="310.4" y="930.6" font-size="7.6" text-anchor="middle" fill="#2A2A2A" font-family="'DejaVu Sans', 'Liberation Sans', sans-serif" font-weight="normal" stroke="#2A2A2A" stroke-width="0.25" >2013/10/3</text>
<line x1="351.3" y1="916.5" x2="351.3" y2="919.5" stroke="#868686" stroke-width="1"/>
<text x="351.3" y="930.6" font-size="7.6" text-anchor="middle" fill="#2A2A2A" font-family="'DejaVu Sans', 'Liberation Sans', sans-serif" font-weight="normal" stroke="#2A2A2A" stroke-width="0.25" >2013/10/23</text>
<line x1="392.2" y1="916.5" x2="392.2" y2="919.5" stroke="#868686" stroke-width="1"/>
<text x="392.2" y="930.6" font-size="7.6" text-anchor="middle" fill="#2A2A2A" font-family="'DejaVu Sans', 'Liberation Sans', sans-serif" font-weight="normal" stroke="#2A2A2A" stroke-width="0.25" >2013/11/12</text>
<path d="M69,905.5 L73.2,905.5 L81.4,905 L84.7,906 L89.6,906.8 L93.7,907.6 L95.4,906.6 L96.5,905.5 L98.7,906 L101.9,905 L104.4,905 L106.4,909.3 L109.3,909.3 L112.6,908 L119.2,907.3 L121.7,908.3 L125.8,908.3 L129.1,909.6 L133.2,910.8 L135.3,910.1 L137,905.5 L138.6,900.6 L141.4,901.9 L148.8,900.7 L152.9,900.7 L155.4,902 L160.8,900.9 L163.2,896.3 L167.3,897.1 L169.8,898.8 L176.4,900.1 L178.8,899.6 L180,900.1 L181.6,897.6 L183.8,898 L187.9,897.1 L192,895.8 L194.1,896.8 L197.8,896 L201.9,893.8 L205.2,892.2 L208.5,893 L210.9,894.7 L212.6,898.3 L215.9,897.6 L221.6,895.5 L227.4,896 L235.6,896.8 L238.1,898 L243.8,898 L248.8,898.3 L254.9,898.3 L258.2,894.7 L262.3,889.4 L265.6,888.6 L268.1,886.9 L274.7,887.8 L279.6,890.2 L289.5,889.2 L292.8,890.6 L296.9,892.4 L303.5,892.2 L312.5,890.7 L322.4,888.9 L324.8,890.9 L327.3,889.2 L333.9,889.2 L339.9,891.7 L344,889.3 L348.1,886.6 L352.2,889.3 L355.5,886.8 L362.9,886.6 L364.5,887.5 L367.8,886.6 L376,886.8 L379.3,888.8 L384.3,890.9" fill="none" stroke="#4477BD" stroke-width="2.5" stroke-linejoin="round" stroke-linecap="round"/>
<line x1="104.5" y1="813.6" x2="122.6" y2="813.6" stroke="#4477BD" stroke-width="2.2"/>
<text x="125" y="816.6" font-size="8.6" text-anchor="start" fill="#222" font-family="'Liberation Sans', 'Noto Sans CJK SC', sans-serif" font-weight="normal" stroke="#222" stroke-width="0.25" >净值</text>
<text x="233.75" y="968.32" font-size="14.19" text-anchor="middle" fill="#000" font-family="'Liberation Serif', 'Noto Serif CJK SC', serif" font-weight="600" textLength="71.14" lengthAdjust="spacingAndGlyphs">当日盈亏</text>
<line x1="65.8" y1="983.7" x2="65.8" y2="1109.1" stroke="#868686" stroke-width="1"/>
<line x1="62.8" y1="1109.1" x2="65.8" y2="1109.1" stroke="#868686" stroke-width="1"/>
<text x="57.8" y="1112.26" font-size="7.4" text-anchor="end" fill="#2A2A2A" font-family="'DejaVu Sans', 'Liberation Sans', sans-serif" font-weight="normal" stroke="#2A2A2A" stroke-width="0.25" >-4.0%</text>
<line x1="62.8" y1="1088.2" x2="65.8" y2="1088.2" stroke="#868686" stroke-width="1"/>
<text x="57.8" y="1091.36" font-size="7.4" text-anchor="end" fill="#2A2A2A" font-family="'DejaVu Sans', 'Liberation Sans', sans-serif" font-weight="normal" stroke="#2A2A2A" stroke-width="0.25" >-2.0%</text>
<line x1="62.8" y1="1067.3" x2="65.8" y2="1067.3" stroke="#868686" stroke-width="1"/>
<text x="57.8" y="1070.46" font-size="7.4" text-anchor="end" fill="#2A2A2A" font-family="'DejaVu Sans', 'Liberation Sans', sans-serif" font-weight="normal" stroke="#2A2A2A" stroke-width="0.25" >0.0%</text>
<line x1="62.8" y1="1046.4" x2="65.8" y2="1046.4" stroke="#868686" stroke-width="1"/>
<text x="57.8" y="1049.56" font-size="7.4" text-anchor="end" fill="#2A2A2A" font-family="'DejaVu Sans', 'Liberation Sans', sans-serif" font-weight="normal" stroke="#2A2A2A" stroke-width="0.25" >2.0%</text>
<line x1="62.8" y1="1025.5" x2="65.8" y2="1025.5" stroke="#868686" stroke-width="1"/>
<text x="57.8" y="1028.66" font-size="7.4" text-anchor="end" fill="#2A2A2A" font-family="'DejaVu Sans', 'Liberation Sans', sans-serif" font-weight="normal" stroke="#2A2A2A" stroke-width="0.25" >4.0%</text>
<line x1="62.8" y1="1004.6" x2="65.8" y2="1004.6" stroke="#868686" stroke-width="1"/>
<text x="57.8" y="1007.76" font-size="7.4" text-anchor="end" fill="#2A2A2A" font-family="'DejaVu Sans', 'Liberation Sans', sans-serif" font-weight="normal" stroke="#2A2A2A" stroke-width="0.25" >6.0%</text>
<line x1="62.8" y1="983.7" x2="65.8" y2="983.7" stroke="#868686" stroke-width="1"/>
<text x="57.8" y="986.86" font-size="7.4" text-anchor="end" fill="#2A2A2A" font-family="'DejaVu Sans', 'Liberation Sans', sans-serif" font-weight="normal" stroke="#2A2A2A" stroke-width="0.25" >8.0%</text>
<line x1="65.8" y1="1067.3" x2="398" y2="1067.3" stroke="#868686" stroke-width="1"/>
<rect x="79.15" y="1065.21" width="1.1" height="2.09" fill="#4F81BD" />
<rect x="81.15" y="1067.3" width="1.1" height="3.76" fill="#4F81BD" />
<rect x="92.05" y="1067.3" width="1.1" height="12.02" fill="#4F81BD" />
<rect x="93.95" y="1051.83" width="1.1" height="15.47" fill="#4F81BD" />
<rect x="96.45" y="1067.3" width="1.1" height="2.09" fill="#4F81BD" />
<rect x="102.75" y="1059.25" width="1.1" height="8.05" fill="#4F81BD" />
<rect x="104.65" y="1067.3" width="1.1" height="32.39" fill="#4F81BD" />
<rect x="111.25" y="1057.89" width="1.1" height="9.4" fill="#4F81BD" />
<rect x="117.55" y="1062.81" width="1.1" height="4.49" fill="#4F81BD" />
<rect x="121.65" y="1067.3" width="1.1" height="7.11" fill="#4F81BD" />
<rect x="123.95" y="1065.84" width="1.1" height="1.46" fill="#4F81BD" />
<rect x="129.35" y="1067.3" width="1.1" height="2.09" fill="#4F81BD" />
<rect x="132.65" y="1067.3" width="1.1" height="21.42" fill="#4F81BD" />
<rect x="134.75" y="1066.25" width="1.1" height="1.05" fill="#4F81BD" />
<rect x="136.75" y="1040.13" width="1.1" height="27.17" fill="#4F81BD" />
<rect x="138.85" y="1004.6" width="1.1" height="62.7" fill="#4F81BD" />
<rect x="140.85" y="1067.3" width="1.1" height="7.11" fill="#4F81BD" />
<rect x="147.75" y="1062.81" width="1.1" height="4.49" fill="#4F81BD" />
<rect x="149.85" y="1062.81" width="1.1" height="4.49" fill="#4F81BD" />
<rect x="152.05" y="1066.67" width="1.1" height="0.63" fill="#4F81BD" />
<rect x="156.05" y="1067.3" width="1.1" height="8.67" fill="#4F81BD" />
<rect x="162.25" y="1059.25" width="1.1" height="8.05" fill="#4F81BD" />
<rect x="165.05" y="1031.14" width="1.1" height="36.16" fill="#4F81BD" />
<rect x="166.75" y="1067.3" width="1.1" height="2.61" fill="#4F81BD" />
<rect x="171.15" y="1067.3" width="1.1" height="12.54" fill="#4F81BD" />
<rect x="177.45" y="1067.3" width="1.1" height="9.2" fill="#4F81BD" />
<rect x="179.85" y="1062.49" width="1.1" height="4.81" fill="#4F81BD" />
<rect x="182.05" y="1067.3" width="1.1" height="2.09" fill="#4F81BD" />
<rect x="183.95" y="1045.04" width="1.1" height="22.26" fill="#4F81BD" />
<rect x="185.95" y="1067.3" width="1.1" height="2.61" fill="#4F81BD" />
<rect x="192.25" y="1057.89" width="1.1" height="9.4" fill="#4F81BD" />
<rect x="193.55" y="1057.89" width="1.1" height="9.4" fill="#4F81BD" />
<rect x="195.05" y="1058.73" width="1.1" height="8.57" fill="#4F81BD" />
<rect x="197.15" y="1067.3" width="1.1" height="7.94" fill="#4F81BD" />
<rect x="199.15" y="1064.48" width="1.1" height="2.82" fill="#4F81BD" />
<rect x="201.45" y="1064.06" width="1.1" height="3.24" fill="#4F81BD" />
<rect x="207.35" y="1040.13" width="1.1" height="27.17" fill="#4F81BD" />
<rect x="209.85" y="1065" width="1.1" height="2.3" fill="#4F81BD" />
<rect x="211.95" y="1067.3" width="1.1" height="5.43" fill="#4F81BD" />
<rect x="214.05" y="1067.3" width="1.1" height="7.94" fill="#4F81BD" />
<rect x="216.05" y="1067.3" width="1.1" height="29.57" fill="#4F81BD" />
<rect x="222.15" y="1051.31" width="1.1" height="15.99" fill="#4F81BD" />
<rect x="224.75" y="1060.09" width="1.1" height="7.21" fill="#4F81BD" />
<rect x="231.15" y="1067.3" width="1.1" height="1.05" fill="#4F81BD" />
<rect x="237.45" y="1067.3" width="1.1" height="3.76" fill="#4F81BD" />
<rect x="239.55" y="1067.3" width="1.1" height="1.36" fill="#4F81BD" />
<rect x="241.85" y="1067.3" width="1.1" height="6.27" fill="#4F81BD" />
<rect x="252.25" y="1067.3" width="1.1" height="1.05" fill="#4F81BD" />
<rect x="254.25" y="1066.25" width="1.1" height="1.05" fill="#4F81BD" />
<rect x="256.35" y="1067.3" width="1.1" height="1.36" fill="#4F81BD" />
<rect x="258.35" y="1067.3" width="1.1" height="1.36" fill="#4F81BD" />
<rect x="261.15" y="1062.49" width="1.1" height="4.81" fill="#4F81BD" />
<rect x="267.45" y="999.38" width="1.1" height="67.92" fill="#4F81BD" />
<rect x="269.55" y="1057.48" width="1.1" height="9.82" fill="#4F81BD" />
<rect x="271.85" y="1064.48" width="1.1" height="2.82" fill="#4F81BD" />
<rect x="273.95" y="1057.06" width="1.1" height="10.24" fill="#4F81BD" />
<rect x="276.45" y="1067.3" width="1.1" height="1.05" fill="#4F81BD" />
<rect x="282.25" y="1067.3" width="1.1" height="6.58" fill="#4F81BD" />
<rect x="284.65" y="1067.3" width="1.1" height="8.67" fill="#4F81BD" />
<rect x="286.85" y="1067.3" width="1.1" height="5.43" fill="#4F81BD" />
<rect x="297.35" y="1059.88" width="1.1" height="7.42" fill="#4F81BD" />
<rect x="299.85" y="1067.3" width="1.1" height="7.94" fill="#4F81BD" />
<rect x="301.65" y="1067.3" width="1.1" height="3.76" fill="#4F81BD" />
<rect x="304.05" y="1067.3" width="1.1" height="9.2" fill="#4F81BD" />
<rect x="306.05" y="1064.48" width="1.1" height="2.82" fill="#4F81BD" />
<rect x="312.65" y="1065.84" width="1.1" height="1.46" fill="#4F81BD" />
<rect x="326.25" y="1067.3" width="1.1" height="2.09" fill="#4F81BD" />
<rect x="329.55" y="1049.33" width="1.1" height="17.97" fill="#4F81BD" />
<rect x="331.85" y="1061.24" width="1.1" height="6.06" fill="#4F81BD" />
<rect x="333.95" y="1067.3" width="1.1" height="9.51" fill="#4F81BD" />
<rect x="335.95" y="1057.06" width="1.1" height="10.24" fill="#4F81BD" />
<rect x="342.45" y="1066.67" width="1.1" height="0.63" fill="#4F81BD" />
<rect x="344.95" y="1067.3" width="1.1" height="2.09" fill="#4F81BD" />
<rect x="346.55" y="1067.3" width="1.1" height="7.94" fill="#4F81BD" />
<rect x="348.75" y="1067.3" width="1.1" height="6.27" fill="#4F81BD" />
<rect x="350.75" y="1064.06" width="1.1" height="3.24" fill="#4F81BD" />
<rect x="357.65" y="1030.31" width="1.1" height="36.99" fill="#4F81BD" />
<rect x="359.75" y="1067.3" width="1.1" height="5.43" fill="#4F81BD" />
<rect x="361.85" y="1067.3" width="1.1" height="10.35" fill="#4F81BD" />
<rect x="363.85" y="1065" width="1.1" height="2.3" fill="#4F81BD" />
<rect x="365.85" y="1051.83" width="1.1" height="15.47" fill="#4F81BD" />
<rect x="372.45" y="1066.67" width="1.1" height="0.63" fill="#4F81BD" />
<rect x="374.55" y="1067.3" width="1.1" height="4.6" fill="#4F81BD" />
<rect x="376.65" y="1061.66" width="1.1" height="5.64" fill="#4F81BD" />
<rect x="378.65" y="1067.3" width="1.1" height="2.61" fill="#4F81BD" />
<rect x="380.75" y="1065" width="1.1" height="2.3" fill="#4F81BD" />
<rect x="386.85" y="1067.3" width="1.1" height="1.05" fill="#4F81BD" />
<rect x="389.35" y="1067.3" width="1.1" height="4.28" fill="#4F81BD" />
<rect x="391.35" y="1067.3" width="1.1" height="9.51" fill="#4F81BD" />
<rect x="393.15" y="1067.3" width="1.1" height="2.61" fill="#4F81BD" />
<rect x="394.25" y="1067.3" width="1.1" height="1.67" fill="#4F81BD" />
<rect x="395.95" y="1067.3" width="1.1" height="8.67" fill="#4F81BD" />
<text x="67.3" y="1081" font-size="7.4" text-anchor="middle" fill="#2A2A2A" font-family="'DejaVu Sans', 'Liberation Sans', sans-serif" font-weight="normal" stroke="#2A2A2A" stroke-width="0.25" >2013/6/7</text>
<text x="131" y="1081" font-size="7.4" text-anchor="middle" fill="#2A2A2A" font-family="'DejaVu Sans', 'Liberation Sans', sans-serif" font-weight="normal" stroke="#2A2A2A" stroke-width="0.25" >2013/7/7</text>
<text x="197.3" y="1081" font-size="7.4" text-anchor="middle" fill="#2A2A2A" font-family="'DejaVu Sans', 'Liberation Sans', sans-serif" font-weight="normal" stroke="#2A2A2A" stroke-width="0.25" >2013/8/7</text>
<text x="263.4" y="1081" font-size="7.4" text-anchor="middle" fill="#2A2A2A" font-family="'DejaVu Sans', 'Liberation Sans', sans-serif" font-weight="normal" stroke="#2A2A2A" stroke-width="0.25" >2013/9/7</text>
<text x="328" y="1081" font-size="7.4" text-anchor="middle" fill="#2A2A2A" font-family="'DejaVu Sans', 'Liberation Sans', sans-serif" font-weight="normal" stroke="#2A2A2A" stroke-width="0.25" >2013/10/7</text>
<text x="394.6" y="1081" font-size="7.4" text-anchor="middle" fill="#2A2A2A" font-family="'DejaVu Sans', 'Liberation Sans', sans-serif" font-weight="normal" stroke="#2A2A2A" stroke-width="0.25" >2013/11/7</text>
<rect x="103.1" y="1003.9" width="5.2" height="4.1" fill="#4F81BD" />
<text x="111.6" y="1008.6" font-size="8.6" text-anchor="start" fill="#222" font-family="'Liberation Sans', 'Noto Sans CJK SC', sans-serif" font-weight="normal" stroke="#222" stroke-width="0.25" >当日盈亏</text>
<rect x="441.8" y="41.1" width="154.5" height="264.3" rx="5.5" fill="#DCDCDC"/>
<rect x="441.8" y="41.1" width="154.5" height="34.4" rx="5.5" fill="#FFC000"/>
<text x="473.2" y="64.7" font-size="15.2" fill="#2E2408" font-family="'Liberation Sans', 'Noto Sans CJK SC', sans-serif" font-weight="500" textLength="92.5" lengthAdjust="spacingAndGlyphs">账户基本情况</text>
<text x="450.4" y="92" font-size="12" fill="#333" font-family="'Liberation Sans', 'Noto Serif CJK SC', serif" font-weight="600"><tspan font-size="10" dy="-0.5">❿</tspan><tspan dy="0.5" dx="0.6">统计周期：</tspan><tspan font-size="10.7" font-weight="400" stroke="#333" stroke-width="0.3">2011</tspan>年<tspan font-size="10.7" font-weight="400" stroke="#333" stroke-width="0.3">1</tspan>月</text>
<text x="450.4" y="106.3" font-size="12" fill="#333" font-family="'Liberation Sans', 'Noto Serif CJK SC', serif" font-weight="600"><tspan font-size="10.7" font-weight="400" stroke="#333" stroke-width="0.3">10-2012</tspan>年<tspan font-size="10.7" font-weight="400" stroke="#333" stroke-width="0.3">6</tspan>月<tspan font-size="10.7" font-weight="400" stroke="#333" stroke-width="0.3">30</tspan>日</text>
<text x="450.4" y="120.6" font-size="12" fill="#333" font-family="'Liberation Sans', 'Noto Serif CJK SC', serif" font-weight="600">•交易天数：<tspan font-size="10.7" font-weight="400" stroke="#333" stroke-width="0.3">330</tspan>个交易日</text>
<text x="450.4" y="134.9" font-size="12" fill="#333" font-family="'Liberation Sans', 'Noto Serif CJK SC', serif" font-weight="600">•期初权益：<tspan font-size="10.7" font-weight="400" stroke="#333" stroke-width="0.3">710</tspan>万元</text>
<text x="450.4" y="149.2" font-size="12" fill="#333" font-family="'Liberation Sans', 'Noto Serif CJK SC', serif" font-weight="600">•期末权益：<tspan font-size="10.7" font-weight="400" stroke="#333" stroke-width="0.3">1772</tspan>万元</text>
<text x="450.4" y="163.5" font-size="12" fill="#333" font-family="'Liberation Sans', 'Noto Serif CJK SC', serif" font-weight="600">•相对期初收益：<tspan font-size="10.7" font-weight="400" stroke="#333" stroke-width="0.3">213.50%</tspan></text>
<text x="450.4" y="177.8" font-size="12" fill="#333" font-family="'Liberation Sans', 'Noto Serif CJK SC', serif" font-weight="600">•期间资金最大回撤值：</text>
<text x="450.4" y="192.1" font-size="12" fill="#333" font-family="'Liberation Sans', 'Noto Serif CJK SC', serif" font-weight="600"><tspan font-size="10.7" font-weight="400" stroke="#333" stroke-width="0.3">110</tspan>万元<tspan font-size="10.7" font-weight="400" stroke="#333" stroke-width="0.3">(11.15%)</tspan></text>
<text x="450.4" y="206.4" font-size="12" fill="#333" font-family="'Liberation Sans', 'Noto Serif CJK SC', serif" font-weight="600">•当月最大盈利：<tspan font-size="10.7" font-weight="400" stroke="#333" stroke-width="0.3">283</tspan>万元</text>
<text x="450.4" y="220.7" font-size="12" fill="#333" font-family="'Liberation Sans', 'Noto Serif CJK SC', serif" font-weight="600"><tspan font-size="10.7" font-weight="400" stroke="#333" stroke-width="0.3">(34%)</tspan></text>
<text x="450.4" y="235" font-size="12" fill="#333" font-family="'Liberation Sans', 'Noto Serif CJK SC', serif" font-weight="600">•当月最大亏损：<tspan font-size="10.7" font-weight="400" stroke="#333" stroke-width="0.3">110</tspan>万元</text>
<text x="450.4" y="249.3" font-size="12" fill="#333" font-family="'Liberation Sans', 'Noto Serif CJK SC', serif" font-weight="600"><tspan font-size="10.7" font-weight="400" stroke="#333" stroke-width="0.3">(11.15%)</tspan></text>
<rect x="440.9" y="412.4" width="154.8" height="265.5" rx="5.5" fill="#DCDCDC"/>
<rect x="440.9" y="412.4" width="154.8" height="34.4" rx="5.5" fill="#FFC000"/>
<text x="472.3" y="436" font-size="15.2" fill="#2E2408" font-family="'Liberation Sans', 'Noto Sans CJK SC', sans-serif" font-weight="500" textLength="92.5" lengthAdjust="spacingAndGlyphs">账户基本情况</text>
<text x="449.9" y="464.4" font-size="12" fill="#333" font-family="'Liberation Sans', 'Noto Serif CJK SC', serif" font-weight="600"><tspan font-size="10" dy="-0.5">❿</tspan><tspan dy="0.5" dx="0.6">统计周期：</tspan><tspan font-size="10.7" font-weight="400" stroke="#333" stroke-width="0.3">2013</tspan>年<tspan font-size="10.7" font-weight="400" stroke="#333" stroke-width="0.3">7</tspan>月<tspan font-size="10.7" font-weight="400" stroke="#333" stroke-width="0.3">1</tspan></text>
<text x="449.9" y="478.75" font-size="12" fill="#333" font-family="'Liberation Sans', 'Noto Serif CJK SC', serif" font-weight="600">日<tspan font-size="10.7" font-weight="400" stroke="#333" stroke-width="0.3">-2013</tspan>年<tspan font-size="10.7" font-weight="400" stroke="#333" stroke-width="0.3">11</tspan>月<tspan font-size="10.7" font-weight="400" stroke="#333" stroke-width="0.3">8</tspan>日</text>
<text x="449.9" y="493.1" font-size="12" fill="#333" font-family="'Liberation Sans', 'Noto Serif CJK SC', serif" font-weight="600">•交易天数：<tspan font-size="10.7" font-weight="400" stroke="#333" stroke-width="0.3">75</tspan>个交易日</text>
<text x="449.9" y="507.45" font-size="12" fill="#333" font-family="'Liberation Sans', 'Noto Serif CJK SC', serif" font-weight="600">•期初权益：<tspan font-size="10.7" font-weight="400" stroke="#333" stroke-width="0.3">300</tspan>万元</text>
<text x="449.9" y="521.8" font-size="12" fill="#333" font-family="'Liberation Sans', 'Noto Serif CJK SC', serif" font-weight="600">•期末权益：<tspan font-size="10.7" font-weight="400" stroke="#333" stroke-width="0.3">377</tspan>万元</text>
<text x="449.9" y="536.15" font-size="12" fill="#333" font-family="'Liberation Sans', 'Noto Serif CJK SC', serif" font-weight="600">•相对期初收益：<tspan font-size="10.7" font-weight="400" stroke="#333" stroke-width="0.3">26%</tspan></text>
<text x="449.9" y="550.5" font-size="12" fill="#333" font-family="'Liberation Sans', 'Noto Serif CJK SC', serif" font-weight="600">•期间资金最大回撤值：</text>
<text x="449.9" y="564.85" font-size="12" fill="#333" font-family="'Liberation Sans', 'Noto Serif CJK SC', serif" font-weight="600"><tspan font-size="10.7" font-weight="400" stroke="#333" stroke-width="0.3">36</tspan>万元<tspan font-size="10.7" font-weight="400" stroke="#333" stroke-width="0.3">(11.33%)</tspan></text>
<text x="449.9" y="579.2" font-size="12" fill="#333" font-family="'Liberation Sans', 'Noto Serif CJK SC', serif" font-weight="600">•当日最大盈利：<tspan font-size="10.7" font-weight="400" stroke="#333" stroke-width="0.3">77</tspan>万元</text>
<text x="449.9" y="593.55" font-size="12" fill="#333" font-family="'Liberation Sans', 'Noto Serif CJK SC', serif" font-weight="600"><tspan font-size="10.7" font-weight="400" stroke="#333" stroke-width="0.3">(11.29%)</tspan></text>
<text x="449.9" y="607.9" font-size="12" fill="#333" font-family="'Liberation Sans', 'Noto Serif CJK SC', serif" font-weight="600">•当日最大亏损：<tspan font-size="10.7" font-weight="400" stroke="#333" stroke-width="0.3">17</tspan>万元</text>
<text x="449.9" y="622.25" font-size="12" fill="#333" font-family="'Liberation Sans', 'Noto Serif CJK SC', serif" font-weight="600"><tspan font-size="10.7" font-weight="400" stroke="#333" stroke-width="0.3">(5.11%)</tspan></text>
<rect x="439.6" y="786.6" width="154.4" height="265.7" rx="5.5" fill="#DCDCDC"/>
<rect x="439.6" y="786.6" width="154.4" height="34.4" rx="5.5" fill="#FFC000"/>
<text x="471" y="810.2" font-size="15.2" fill="#2E2408" font-family="'Liberation Sans', 'Noto Sans CJK SC', sans-serif" font-weight="500" textLength="92.5" lengthAdjust="spacingAndGlyphs">账户基本情况</text>
<text x="448.1" y="838.5" font-size="12" fill="#333" font-family="'Liberation Sans', 'Noto Serif CJK SC', serif" font-weight="600"><tspan font-size="10" dy="-0.5">❿</tspan><tspan dy="0.5" dx="0.6">统计周期：</tspan><tspan font-size="10.7" font-weight="400" stroke="#333" stroke-width="0.3">2013</tspan>年<tspan font-size="10.7" font-weight="400" stroke="#333" stroke-width="0.3">6</tspan>月<tspan font-size="10.7" font-weight="400" stroke="#333" stroke-width="0.3">1</tspan></text>
<text x="448.1" y="852.82" font-size="12" fill="#333" font-family="'Liberation Sans', 'Noto Serif CJK SC', serif" font-weight="600">日<tspan font-size="10.7" font-weight="400" stroke="#333" stroke-width="0.3">-2013</tspan>年<tspan font-size="10.7" font-weight="400" stroke="#333" stroke-width="0.3">11</tspan>月<tspan font-size="10.7" font-weight="400" stroke="#333" stroke-width="0.3">8</tspan>日</text>
<text x="448.1" y="867.14" font-size="12" fill="#333" font-family="'Liberation Sans', 'Noto Serif CJK SC', serif" font-weight="600">•交易天数：<tspan font-size="10.7" font-weight="400" stroke="#333" stroke-width="0.3">99</tspan>个交易日</text>
<text x="448.1" y="881.46" font-size="12" fill="#333" font-family="'Liberation Sans', 'Noto Serif CJK SC', serif" font-weight="600">•期初权益：<tspan font-size="10.7" font-weight="400" stroke="#333" stroke-width="0.3">167</tspan>万元</text>
<text x="448.1" y="895.78" font-size="12" fill="#333" font-family="'Liberation Sans', 'Noto Serif CJK SC', serif" font-weight="600">•期末权益：<tspan font-size="10.7" font-weight="400" stroke="#333" stroke-width="0.3">188</tspan>万元</text>
<text x="448.1" y="910.1" font-size="12" fill="#333" font-family="'Liberation Sans', 'Noto Serif CJK SC', serif" font-weight="600">•相对期初收益：<tspan font-size="10.7" font-weight="400" stroke="#333" stroke-width="0.3">12%</tspan></text>
<text x="448.1" y="924.42" font-size="12" fill="#333" font-family="'Liberation Sans', 'Noto Serif CJK SC', serif" font-weight="600">•期间资金最大回撤值：</text>
<text x="448.1" y="938.74" font-size="12" fill="#333" font-family="'Liberation Sans', 'Noto Serif CJK SC', serif" font-weight="600"><tspan font-size="10.7" font-weight="400" stroke="#333" stroke-width="0.3">7.5</tspan>万元<tspan font-size="10.7" font-weight="400" stroke="#333" stroke-width="0.3">(4.9%)</tspan></text>
<text x="448.1" y="953.06" font-size="12" fill="#333" font-family="'Liberation Sans', 'Noto Serif CJK SC', serif" font-weight="600">•当日最大盈利：<tspan font-size="10.7" font-weight="400" stroke="#333" stroke-width="0.3">11</tspan>万元</text>
<text x="448.1" y="967.38" font-size="12" fill="#333" font-family="'Liberation Sans', 'Noto Serif CJK SC', serif" font-weight="600"><tspan font-size="10.7" font-weight="400" stroke="#333" stroke-width="0.3">(6.3%)</tspan></text>
<text x="448.1" y="981.7" font-size="12" fill="#333" font-family="'Liberation Sans', 'Noto Serif CJK SC', serif" font-weight="600">•当日最大亏损：<tspan font-size="10.7" font-weight="400" stroke="#333" stroke-width="0.3">5.3</tspan>万元</text>
<text x="448.1" y="996.02" font-size="12" fill="#333" font-family="'Liberation Sans', 'Noto Serif CJK SC', serif" font-weight="600"><tspan font-size="10.7" font-weight="400" stroke="#333" stroke-width="0.3">(3.2%)</tspan></text>
</svg>
</body></html>
